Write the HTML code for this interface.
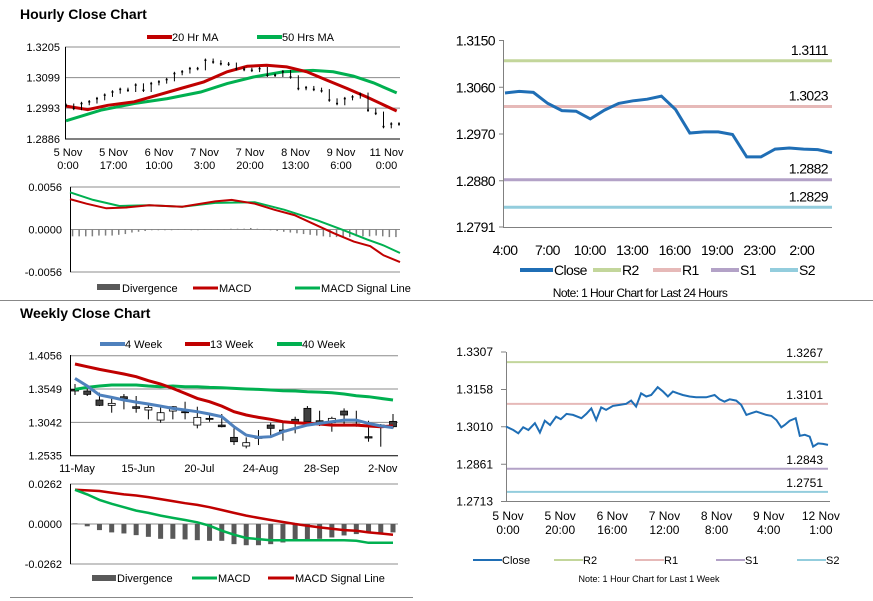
<!DOCTYPE html>
<html><head><meta charset="utf-8"><style>
html,body{margin:0;padding:0;background:#fff;}
svg{display:block;font-family:"Liberation Sans",sans-serif;}
.n{letter-spacing:-0.6px;}
</style></head><body>
<svg id="s" width="873" height="601" viewBox="0 0 873 601" xmlns="http://www.w3.org/2000/svg">
<text x="20" y="19" font-size="14" font-weight="bold">Hourly Close Chart</text>
<text x="20" y="318" font-size="14" font-weight="bold">Weekly Close Chart</text>
<line x1="0" y1="300.5" x2="873" y2="300.5" stroke="#888"/>
<line x1="10" y1="597.5" x2="413" y2="597.5" stroke="#888"/>
<g id="g"></g>
</svg>
<script>
// ===== Hourly candle chart data =====
const hCloses=[1.3003,1.2992,1.3009,1.3015,1.3026,1.3038,1.3049,1.3058,1.3055,1.3073,1.3055,1.3078,1.3084,1.3092,1.3113,1.3119,1.3130,1.3130,1.3159,1.3153,1.3147,1.3145,1.3130,1.3127,1.3124,1.3130,1.3107,1.3107,1.3119,1.3101,1.3061,1.3064,1.3058,1.3053,1.3021,1.3009,1.3026,1.3032,1.3041,1.2986,1.2975,1.2929,1.2938,1.2938];
const hMa20Idx=[0,2.8,5.4,8.8,11.8,14.8,17.8,20.8,23.4,25.9,28.5,31.1,33.7,36.3,38.8,42.7];
const hMa20=[1.3000,1.2988,1.3003,1.3015,1.3038,1.3061,1.3084,1.3119,1.3138,1.3142,1.3136,1.3119,1.3090,1.3061,1.3032,1.2983];
const hMa50Idx=[0,4.5,8.8,13.1,17.4,20.8,24.2,28.1,31.9,34.5,37.1,39.7,42.7];
const hMa50=[1.2949,1.2986,1.3009,1.3026,1.3049,1.3078,1.3101,1.3119,1.3124,1.3119,1.3104,1.3081,1.3046];
const hTicks=[1.3205,1.3099,1.2993,1.2886];
const hXLabels=[["5 Nov","0:00"],["5 Nov","17:00"],["6 Nov","10:00"],["7 Nov","3:00"],["7 Nov","20:00"],["8 Nov","13:00"],["9 Nov","6:00"],["11 Nov","0:00"]];
// hourly MACD
const hMacdT=[0,5,11,17,24,34,44,49,56,62,68,74,80,86,91,95,100];
const hMacd=[0.0040,0.0034,0.0028,0.0029,0.0032,0.0030,0.0037,0.0039,0.0034,0.0026,0.0019,0.0007,-0.0005,-0.0016,-0.0022,-0.0034,-0.0043];
const hSigT=[0,7,15,24,34,44,56,65,75,83,90,95,100];
const hSig=[0.0049,0.0039,0.0031,0.0032,0.0030,0.0035,0.0036,0.0026,0.0012,-0.0001,-0.0013,-0.0021,-0.0031];
const hDiv=[-9,-9,-9,-9,-8,-8,-8,-7,-6,-4,-3,-2,-1,-1,-1,-1,0,0,-1,-1,0,0,0,0,1,1,1,2,1,0,-1,-2,-3,-4,-5,-6,-7,-8,-9,-10,-10,-10,-10,-9,-9,-9,-8,-9,-10,-10];
const hMacdTicks=[0.0056,0.0000,-0.0056];
// ===== Weekly data =====
const wOpen=[1.3544,1.3519,1.3382,1.3301,1.3432,1.3280,1.3230,1.3077,1.3214,1.3204,1.3001,1.3103,1.3001,1.2814,1.2682,1.2814,1.3001,1.2925,1.3088,1.3255,1.3067,1.3037,1.3214,1.3017,1.2824,1.3001,1.3057];
const wClose=[1.3519,1.3468,1.3301,1.3331,1.3402,1.3255,1.3270,1.3189,1.3280,1.3189,1.3118,1.3088,1.2976,1.2748,1.2733,1.2799,1.2951,1.2900,1.3037,1.3052,1.3017,1.3103,1.3154,1.2986,1.2804,1.2991,1.2976];
const wHigh=[1.3625,1.3559,1.3493,1.3432,1.3473,1.3443,1.3331,1.3280,1.3290,1.3356,1.3280,1.3154,1.3169,1.2951,1.2814,1.2925,1.3037,1.3037,1.3128,1.3290,1.3219,1.3128,1.3255,1.3219,1.3067,1.3017,1.3169];
const wLow=[1.3458,1.3443,1.3290,1.3189,1.3240,1.3189,1.3088,1.3037,1.3088,1.3088,1.2951,1.3052,1.2966,1.2697,1.2647,1.2697,1.2834,1.2763,1.2875,1.3037,1.2986,1.2900,1.3001,1.2976,1.2748,1.2672,1.2951];
const w4=[1.3711,1.3595,1.3458,1.3422,1.3382,1.3351,1.3321,1.3290,1.3255,1.3230,1.3204,1.3169,1.3128,1.2976,1.2849,1.2814,1.2824,1.2900,1.2951,1.3001,1.3027,1.3052,1.3077,1.3077,1.3027,1.2986,1.2961];
const w13=[1.3929,1.3889,1.3848,1.3813,1.3777,1.3737,1.3676,1.3625,1.3559,1.3483,1.3407,1.3356,1.3290,1.3204,1.3154,1.3118,1.3088,1.3052,1.3037,1.3027,1.3017,1.3001,1.3001,1.3001,1.2986,1.2976,1.2986];
const w40=[1.3544,1.3574,1.3595,1.3610,1.3610,1.3610,1.3595,1.3585,1.3595,1.3585,1.3585,1.3574,1.3569,1.3559,1.3549,1.3544,1.3534,1.3524,1.3519,1.3508,1.3503,1.3493,1.3473,1.3448,1.3432,1.3407,1.3382];
const wTicks=[1.4056,1.3549,1.3042,1.2535];
const wXLabels=["11-May","15-Jun","20-Jul","24-Aug","28-Sep","2-Nov"];
const wXLabelWeek=[0,5,10,15,20,25];
const wMacd=[0.0224,0.0194,0.0158,0.0132,0.0110,0.0088,0.0073,0.0055,0.0040,0.0026,0.0011,-0.0011,-0.0044,-0.0070,-0.0092,-0.0099,-0.0106,-0.0106,-0.0106,-0.0106,-0.0106,-0.0106,-0.0106,-0.0110,-0.0123,-0.0123,-0.0123];
const wSig=[0.0224,0.0220,0.0216,0.0205,0.0194,0.0187,0.0176,0.0163,0.0150,0.0136,0.0125,0.0110,0.0092,0.0073,0.0055,0.0040,0.0026,0.0013,0.0000,-0.0011,-0.0022,-0.0031,-0.0040,-0.0044,-0.0055,-0.0062,-0.0070];
const wDiv=[0.0004,-0.0015,-0.0040,-0.0055,-0.0062,-0.0073,-0.0084,-0.0097,-0.0097,-0.0101,-0.0106,-0.0110,-0.0110,-0.0132,-0.0139,-0.0139,-0.0132,-0.0121,-0.0106,-0.0101,-0.0097,-0.0088,-0.0075,-0.0066,-0.0059,-0.0059,-0.0055];
const wMacdTicks=[0.0262,0.0000,-0.0262];
// ===== Right top: 24h close =====
const dClose=[1.3049,1.3052,1.3050,1.3029,1.3015,1.3014,1.2999,1.3016,1.3029,1.3034,1.3037,1.3043,1.3017,1.2972,1.2974,1.2974,1.2969,1.2926,1.2926,1.2941,1.2943,1.2941,1.2940,1.2934];
const dLevels=[1.3111,1.3023,1.2882,1.2829];
const dLevelNames=["R2","R1","S1","S2"];
const dTicks=[1.3150,1.3060,1.2970,1.2880,1.2791];
const dXLabels=["4:00","7:00","10:00","13:00","16:00","19:00","23:00","2:00"];
// ===== Right bottom: 1 week close =====
const kHours=[0,2.8,4.7,6.6,8.6,11.1,13.0,14.9,16.9,19.2,21.0,23.2,25.7,28.9,30.8,32.7,34.6,36.5,38.4,41.0,43.6,46.1,48.0,49.9,51.8,53.8,55.7,58.2,60.2,62.1,64.0,65.9,67.8,70.4,72.9,76.8,80.0,81.9,83.8,85.8,88.3,90.2,92.2,94.1,96.0,97.9,99.8,101.8,103.7,105.6,106.9,108.8,111.1,112.7,114.6,116.5,117.8,119.7,121.6,123.5];
const kClose=[1.3011,1.2997,1.2984,1.3008,1.2997,1.3024,1.2987,1.3034,1.3017,1.3050,1.3040,1.3061,1.3057,1.3044,1.3061,1.3083,1.3037,1.3087,1.3077,1.3093,1.3097,1.3101,1.3114,1.3090,1.3143,1.3130,1.3136,1.3167,1.3150,1.3130,1.3150,1.3143,1.3136,1.3130,1.3127,1.3127,1.3136,1.3119,1.3110,1.3119,1.3114,1.3097,1.3057,1.3064,1.3070,1.3064,1.3057,1.3053,1.3037,1.3008,1.3017,1.3034,1.3044,1.2974,1.2978,1.2971,1.2931,1.2944,1.2942,1.2938];
const kLevels=[1.3267,1.3101,1.2843,1.2751];
const kTicks=[1.3307,1.3158,1.3010,1.2861,1.2713];
const kXLabels=[["5 Nov","0:00"],["5 Nov","20:00"],["6 Nov","16:00"],["7 Nov","12:00"],["8 Nov","8:00"],["9 Nov","4:00"],["12 Nov","1:00"]];
const kXLabelHour=[0,20,40,60,80,100,120];

const NS="http://www.w3.org/2000/svg";
const G=document.getElementById('g');
function mk(tag,at,txt){const e=document.createElementNS(NS,tag);for(const k in at)e.setAttribute(k,at[k]);if(txt!==undefined)e.textContent=txt;G.appendChild(e);return e;}
function lin(d0,d1,r0,r1){return v=>r0+(v-d0)/(d1-d0)*(r1-r0);}
function pathOf(xs,ys,fx,fy){return xs.map((x,i)=>(i?'L':'M')+fx(x).toFixed(1)+' '+fy(ys[i]).toFixed(1)).join(' ');}
function idx(a){return a.map((_,i)=>i);}
let e;
const RED="#c00000",GREEN="#00b050",BLUE="#4f81bd",GRAY="#595959";

// ---------- Hourly price ----------
{const fx=lin(0,43,66,399),fy=lin(1.3205,1.2886,47,139);
hTicks.forEach((t,i)=>{e=mk('line',{x1:65,x2:400,y1:fy(t),y2:fy(t),stroke:i==hTicks.length-1?'#000':'#8c8c8c','stroke-width':1});

e=mk('text',{x:60,y:fy(t)+4,'font-size':11,'text-anchor':'end'},t.toFixed(4));
});
e=mk('line',{x1:65.5,x2:65.5,y1:47,y2:139,stroke:'#000'});
hXLabels.forEach((l,i)=>{const x=68+i*45.5;e=mk('text',{x:x,y:156,'font-size':11,'text-anchor':'middle'},l[0]);

e=mk('text',{x:x,y:169,'font-size':11,'text-anchor':'middle'},l[1]);
});
e=mk('path',{d:pathOf(hMa50Idx,hMa50,fx,fy),fill:'none',stroke:GREEN,'stroke-width':3});
e=mk('path',{d:pathOf(hMa20Idx,hMa20,fx,fy),fill:'none',stroke:RED,'stroke-width':3});
hCloses.forEach((c,i)=>{const p=i?hCloses[i-1]:c;const x=fx(i);const hi=Math.max(c,p)+0.0006,lo=Math.min(c,p)-0.0006;
e=mk('line',{x1:x,x2:x,y1:fy(hi),y2:fy(lo),stroke:'#000','stroke-width':1});
e=mk('line',{x1:x-1,x2:x+1,y1:fy(c),y2:fy(c),stroke:'#000','stroke-width':1.5});});
e=mk('line',{x1:147,x2:172,y1:37,y2:37,stroke:RED,'stroke-width':4});
e=mk('text',{x:172,y:41,'font-size':11},'20 Hr MA');
e=mk('line',{x1:257,x2:282,y1:37,y2:37,stroke:GREEN,'stroke-width':4});
e=mk('text',{x:282,y:41,'font-size':11},'50 Hrs MA');}

// ---------- Hourly MACD ----------
{const fx=lin(0,100,70,400),fy=lin(0.0056,-0.0056,187,272);
hMacdTicks.forEach(t=>{e=mk('line',{x1:70,x2:400,y1:fy(t),y2:fy(t),stroke:'#8c8c8c'});
e=mk('text',{x:62,y:fy(t)+4,'font-size':11,'text-anchor':'end'},t.toFixed(4));});
e=mk('line',{x1:70.5,x2:70.5,y1:187,y2:272,stroke:'#000'});
hDiv.forEach((v,i)=>{const x=fx(i*2+1),y0=fy(0),y1=fy(v*0.0001);
e=mk('rect',{x:x-1.5,y:Math.min(y0,y1),width:1.5,height:Math.max(0.5,Math.abs(y1-y0)),fill:'#7f7f7f'});});
e=mk('path',{d:pathOf(hSigT,hSig,fx,fy),fill:'none',stroke:GREEN,'stroke-width':2});
e=mk('path',{d:pathOf(hMacdT,hMacd,fx,fy),fill:'none',stroke:RED,'stroke-width':2});
e=mk('rect',{x:97,y:284,width:23,height:6,fill:GRAY});
e=mk('text',{x:122,y:292,'font-size':11},'Divergence');
e=mk('line',{x1:193,x2:218,y1:288,y2:288,stroke:RED,'stroke-width':3});
e=mk('text',{x:219,y:292,'font-size':11},'MACD');
e=mk('line',{x1:295,x2:320,y1:288,y2:288,stroke:GREEN,'stroke-width':3});
e=mk('text',{x:321,y:292,'font-size':11},'MACD Signal Line');}

// ---------- Weekly price ----------
{const fx=lin(0,26,75,393),fy=lin(1.4056,1.2535,355.7,455.7);
wTicks.forEach((t,i)=>{e=mk('line',{x1:70,x2:398,y1:fy(t),y2:fy(t),stroke:i==wTicks.length-1?'#000':'#8c8c8c'});
e=mk('text',{x:62,y:fy(t)+4,'font-size':11,'text-anchor':'end'},t.toFixed(4));});
e=mk('line',{x1:70.5,x2:70.5,y1:355,y2:456,stroke:'#000'});
wXLabels.forEach((l,i)=>{e=mk('text',{x:fx(wXLabelWeek[i])+2,y:472,'font-size':11,'text-anchor':'middle'},l);});
wOpen.forEach((o,i)=>{const c=wClose[i],x=fx(i);
e=mk('line',{x1:x,x2:x,y1:fy(wHigh[i]),y2:fy(wLow[i]),stroke:'#000'});
const top=fy(Math.max(o,c)),bot=fy(Math.min(o,c));
e=mk('rect',{x:x-3.5,y:top,width:7,height:Math.max(1,bot-top),fill:c<o?'#404040':'#fff',stroke:'#000','stroke-width':0.8});});
e=mk('path',{d:pathOf(idx(w40),w40,fx,fy),fill:'none',stroke:GREEN,'stroke-width':3});
e=mk('path',{d:pathOf(idx(w13),w13,fx,fy),fill:'none',stroke:RED,'stroke-width':3});
e=mk('path',{d:pathOf(idx(w4),w4,fx,fy),fill:'none',stroke:BLUE,'stroke-width':3});
[[100,BLUE,'4 Week','legend-4-week'],[185,RED,'13 Week','legend-13-week'],[277,GREEN,'40 Week','legend-40-week']].forEach(L=>{
e=mk('line',{x1:L[0],x2:L[0]+25,y1:344,y2:344,stroke:L[1],'stroke-width':4});
e=mk('text',{x:L[0]+25,y:348,'font-size':11},L[2]);});}

// ---------- Weekly MACD ----------
{const fx=lin(0,26,75,393),fy=lin(0.0262,-0.0262,484,564);
wMacdTicks.forEach(t=>{e=mk('line',{x1:70,x2:398,y1:fy(t),y2:fy(t),stroke:'#8c8c8c'});
e=mk('text',{x:62,y:fy(t)+4,'font-size':11,'text-anchor':'end'},t.toFixed(4));});
e=mk('line',{x1:70.5,x2:70.5,y1:484,y2:564,stroke:'#000'});
wDiv.forEach((v,i)=>{const x=fx(i),y0=fy(0),y1=fy(v);
e=mk('rect',{x:x-2.5,y:Math.min(y0,y1),width:5,height:Math.abs(y1-y0),fill:'#595959'});});
e=mk('path',{d:pathOf(idx(wSig),wSig,fx,fy),fill:'none',stroke:RED,'stroke-width':2.5});
e=mk('path',{d:pathOf(idx(wMacd),wMacd,fx,fy),fill:'none',stroke:GREEN,'stroke-width':2.5});
e=mk('rect',{x:92,y:575,width:24,height:6,fill:GRAY});
e=mk('text',{x:117,y:582,'font-size':11},'Divergence');
e=mk('line',{x1:192,x2:217,y1:578,y2:578,stroke:GREEN,'stroke-width':3});
e=mk('text',{x:218,y:582,'font-size':11},'MACD');
e=mk('line',{x1:268,x2:294,y1:578,y2:578,stroke:RED,'stroke-width':3});
e=mk('text',{x:295,y:582,'font-size':11},'MACD Signal Line');}

const LC=["#c3d69b","#e6b9b8","#b3a2c7","#93cddd"];
// ---------- Right top ----------
{const fx=lin(0,23,505,832),fy=lin(1.3150,1.2791,40.5,227);
dTicks.forEach(t=>{e=mk('line',{x1:499,x2:504,y1:fy(t),y2:fy(t),stroke:'#808080'});
e=mk('text',{x:495,y:fy(t)+5,'font-size':14,'text-anchor':'end','class':'n'},t.toFixed(4));});
e=mk('line',{x1:503.5,x2:503.5,y1:40,y2:227,stroke:'#808080'});
e=mk('line',{x1:503,x2:832,y1:227.5,y2:227.5,stroke:'#808080'});
dXLabels.forEach((l,i)=>{e=mk('text',{x:505+i*42.4,y:255,'font-size':14,'text-anchor':'middle','class':'n'},l);});
dLevels.forEach((v,i)=>{e=mk('line',{x1:504,x2:832,y1:fy(v),y2:fy(v),stroke:LC[i],'stroke-width':3});
e=mk('text',{x:828,y:fy(v)-6,'font-size':14,'text-anchor':'end','class':'n'},v.toFixed(4));});
e=mk('path',{d:pathOf(idx(dClose),dClose,fx,fy),fill:'none',stroke:'#1f6eb5','stroke-width':3});
const names=["Close"].concat(dLevelNames),cols=["#1f6eb5"].concat(LC),lx=[520,593,653,711,770],lw=[33,28,28,28,28];
names.forEach((n,i)=>{const x=lx[i];e=mk('line',{x1:x,x2:x+lw[i],y1:270,y2:270,stroke:cols[i],'stroke-width':4});
e=mk('text',{x:x+lw[i]+1,y:275,'font-size':14,'class':'n'},n);});
e=mk('text',{x:640,y:297,'font-size':12,'text-anchor':'middle','class':'n'},'Note: 1 Hour Chart for Last 24 Hours');}

// ---------- Right bottom ----------
{const fx=lin(0,123.5,506,828),fy=lin(1.3307,1.2713,352,501.5);
kTicks.forEach(t=>{e=mk('line',{x1:501,x2:506,y1:fy(t),y2:fy(t),stroke:'#808080'});
e=mk('text',{x:493,y:fy(t)+4,'font-size':12,'text-anchor':'end'},t.toFixed(4));});
e=mk('line',{x1:506.5,x2:506.5,y1:352,y2:502,stroke:'#808080'});
e=mk('line',{x1:506,x2:830,y1:501.5,y2:501.5,stroke:'#808080'});
kXLabels.forEach((l,i)=>{const x=fx(kXLabelHour[i])+2;
e=mk('text',{x:x,y:520,'font-size':12,'text-anchor':'middle'},l[0]);
e=mk('text',{x:x,y:534,'font-size':12,'text-anchor':'middle'},l[1]);});
kLevels.forEach((v,i)=>{e=mk('line',{x1:507,x2:828,y1:fy(v),y2:fy(v),stroke:LC[i],'stroke-width':2});
e=mk('text',{x:823,y:fy(v)-5,'font-size':12,'text-anchor':'end'},v.toFixed(4));});
e=mk('path',{d:pathOf(kHours,kClose,fx,fy),fill:'none',stroke:'#1f6eb5','stroke-width':2});
const names=["Close"].concat(dLevelNames),cols=["#1f6eb5"].concat(LC);
names.forEach((n,i)=>{const x=473+i*81;e=mk('line',{x1:x,x2:x+29,y1:560,y2:560,stroke:cols[i],'stroke-width':2});
e=mk('text',{x:x+29,y:564,'font-size':11},n);});
e=mk('text',{x:649,y:582,'font-size':9,'text-anchor':'middle'},'Note: 1 Hour Chart for Last 1 Week');}
</script>
</body></html>
